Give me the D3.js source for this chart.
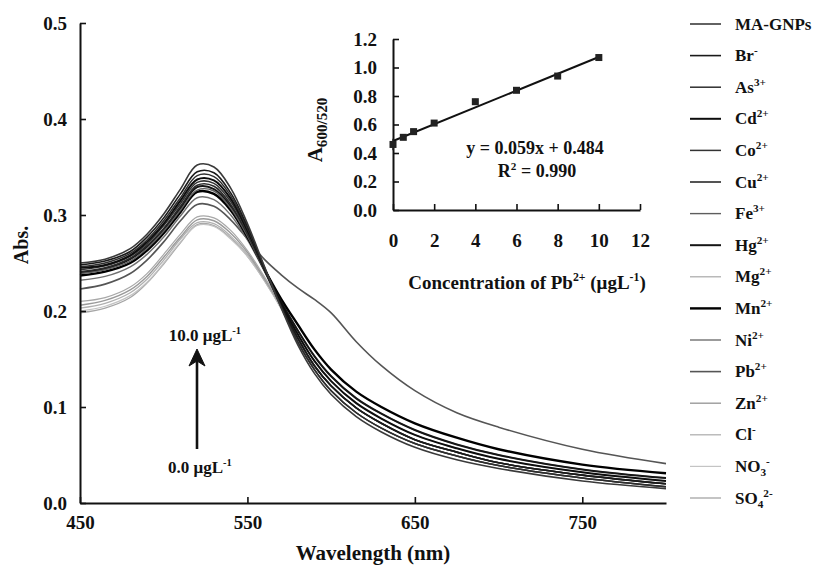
<!DOCTYPE html>
<html>
<head>
<meta charset="utf-8">
<script src="https://cdn.jsdelivr.net/npm/d3@7"></script>
<style>
  body { margin: 0; background: #fff; }
  svg { display: block; }
  text { font-family: "Liberation Serif", "Times New Roman", serif; font-weight: bold; fill: #111; }
</style>
</head>
<body>
<svg id="chart" width="815" height="565"></svg>
<script>
// ---- Spectra: wavelength grid (nm) and absorbance of each sample ----
const wavelengths = [450,465,480,490,500,510,520,530,540,550,560,570,580,590,600,615,630,650,675,700,750,800];

const absMAGNPs = [.250,.254,.265,.280,.301,.327,.352,.350,.328,.291,.247,.204,.165,.135,.113,.090,.074,.058,.045,.036,.023,.015];
const absBr     = [.248,.252,.262,.277,.297,.322,.345,.344,.323,.288,.246,.206,.172,.143,.122,.099,.083,.066,.053,.042,.029,.020];
const absAs     = [.246,.250,.260,.274,.294,.318,.341,.340,.320,.286,.245,.205,.168,.139,.117,.094,.078,.062,.049,.039,.026,.017];
const absCd     = [.245,.248,.258,.272,.291,.315,.337,.336,.317,.284,.245,.208,.176,.148,.127,.104,.088,.071,.057,.046,.032,.023];
const absCo     = [.243,.247,.257,.270,.289,.312,.334,.333,.314,.282,.243,.205,.168,.139,.117,.094,.078,.062,.049,.039,.026,.017];
const absCu     = [.241,.245,.255,.268,.286,.309,.331,.330,.311,.280,.243,.207,.172,.143,.122,.099,.083,.066,.053,.042,.029,.020];
const absFe     = [.239,.243,.252,.265,.283,.305,.326,.325,.307,.278,.242,.207,.172,.143,.122,.099,.083,.066,.053,.042,.029,.020];
const absHg     = [.240,.244,.254,.267,.285,.307,.329,.327,.309,.279,.244,.210,.180,.153,.132,.109,.093,.076,.061,.050,.035,.026];
const absMg     = [.210,.214,.225,.239,.259,.280,.298,.297,.284,.263,.236,.207,.176,.148,.127,.104,.088,.071,.057,.046,.032,.023];
const absMn     = [.237,.241,.250,.263,.281,.303,.324,.322,.305,.277,.244,.213,.186,.160,.139,.116,.100,.083,.068,.056,.040,.031];
const absNi     = [.232,.236,.246,.259,.277,.299,.318,.316,.300,.274,.242,.210,.180,.153,.132,.109,.093,.076,.061,.050,.035,.026];
const absPb     = [.223,.228,.239,.253,.272,.294,.311,.309,.295,.275,.254,.238,.224,.212,.198,.168,.143,.117,.094,.079,.056,.041];
const absZn     = [.206,.211,.222,.236,.256,.277,.295,.294,.281,.261,.234,.205,.172,.143,.122,.099,.083,.066,.053,.042,.029,.020];
const absCl     = [.203,.208,.219,.233,.253,.275,.292,.291,.278,.259,.233,.205,.172,.143,.122,.099,.083,.066,.053,.042,.029,.020];
const absNO3    = [.200,.205,.216,.230,.250,.272,.289,.288,.275,.257,.232,.203,.168,.139,.117,.094,.078,.062,.049,.039,.026,.017];
const absSO4    = [.198,.203,.214,.229,.249,.271,.290,.289,.276,.257,.232,.203,.168,.139,.117,.094,.078,.062,.049,.039,.026,.017];

// Legend labels: base text, optional subscript and superscript
const seriesLabels = [
  {base: "MA-GNPs"}, {base: "Br", sup: "-"}, {base: "As", sup: "3+"}, {base: "Cd", sup: "2+"},
  {base: "Co", sup: "2+"}, {base: "Cu", sup: "2+"}, {base: "Fe", sup: "3+"}, {base: "Hg", sup: "2+"},
  {base: "Mg", sup: "2+"}, {base: "Mn", sup: "2+"}, {base: "Ni", sup: "2+"}, {base: "Pb", sup: "2+"},
  {base: "Zn", sup: "2+"}, {base: "Cl", sup: "-"}, {base: "NO", sub: "3", sup: "-"}, {base: "SO", sub: "4", sup: "2-"}
];
const seriesValues = [absMAGNPs, absBr, absAs, absCd, absCo, absCu, absFe, absHg,
                      absMg, absMn, absNi, absPb, absZn, absCl, absNO3, absSO4];

// Line styles for each sample
const seriesColors = ["#3a3a3a","#1a1a1a","#2e2e2e","#0d0d0d","#333333","#2a2a2a","#5e5e5e","#151515",
                      "#a8a8a8","#000000","#707070","#555555","#9a9a9a","#b0b0b0","#c4c4c4","#a5a5a5"];
const seriesWidths = [1.6,1.6,1.5,2,1.5,1.6,1.4,2,1.2,2.4,1.4,1.6,1.4,1.3,1.2,1.3];

// ---- Calibration inset: A600/A520 versus Pb2+ concentration ----
const pbConc   = [0, 0.5, 1, 2, 4, 6, 8, 10];
const ratio    = [0.46, 0.51, 0.55, 0.61, 0.76, 0.84, 0.94, 1.07];
const ratioErr = [0.04, 0.01, 0.01, 0.01, 0.02, 0.01, 0.01, 0.02];
const fitSlope = 0.059, fitIntercept = 0.484;

// Tick values
const mainXTicks = [450, 550, 650, 750];
const mainYTicks = [0, 0.1, 0.2, 0.3, 0.4, 0.5];
const insetXTicks = [0, 2, 4, 6, 8, 10, 12];
const insetYTicks = [0, 0.2, 0.4, 0.6, 0.8, 1.0, 1.2];

const svg = d3.select("#chart");

// Writes chemical labels with sub/superscripts into a text element
function richLabel(textSel, lab, size, scale = 0.62) {
  textSel.append("tspan").text(lab.base);
  if (lab.sub) textSel.append("tspan").attr("font-size", size * scale).attr("baseline-shift", -size * 0.25).text(lab.sub);
  if (lab.sup) textSel.append("tspan").attr("font-size", size * scale).attr("baseline-shift", size * 0.4).text(lab.sup);
}

function styleAxis(g, fontSize) {
  g.attr("font-family", null).attr("font-size", null);
  g.select(".domain").attr("stroke", "#111").attr("stroke-width", 2);
  g.selectAll(".tick line").attr("stroke", "#111").attr("stroke-width", 1.6);
  g.selectAll(".tick text").attr("font-size", fontSize).attr("fill", "#111");
}

// ---- Main spectra panel ----
const x = d3.scaleLinear().domain([450, 800]).range([80, 666]);
const y = d3.scaleLinear().domain([0, 0.5]).range([503, 23]);

const line = d3.line()
  .x((d, i) => x(wavelengths[i]))
  .y(d => y(d))
  .curve(d3.curveCatmullRom.alpha(0.5));

const curves = svg.append("g").attr("class", "spectra");
d3.range(seriesValues.length).reverse().forEach(i => {
  curves.append("path")
    .attr("d", line(seriesValues[i]))
    .attr("fill", "none")
    .attr("stroke", seriesColors[i])
    .attr("stroke-width", seriesWidths[i])
    .attr("stroke-linejoin", "round");
});

svg.append("g").attr("transform", "translate(0,503)")
  .call(d3.axisBottom(x).tickValues(mainXTicks).tickSizeInner(-6).tickSizeOuter(0).tickPadding(13).tickFormat(d3.format("d")))
  .call(g => styleAxis(g, 19));
svg.append("g").attr("transform", "translate(80,0)")
  .call(d3.axisLeft(y).tickValues(mainYTicks).tickSizeInner(-6).tickSizeOuter(0).tickPadding(13).tickFormat(d3.format(".1f")))
  .call(g => styleAxis(g, 19));

svg.append("text").attr("x", 373).attr("y", 560).attr("text-anchor", "middle")
  .attr("font-size", 21).text("Wavelength (nm)");
svg.append("text").attr("transform", "translate(28,245) rotate(-90)").attr("text-anchor", "middle")
  .attr("font-size", 20).text("Abs.");

// Concentration arrow (shaft + head)
svg.append("line").attr("x1", 197).attr("y1", 449).attr("x2", 197).attr("y2", 360)
  .attr("stroke", "#111").attr("stroke-width", 2.6);
svg.append("path")
  .attr("d", "M197,349 L205,366 L197,361 L189,366 Z")
  .attr("fill", "#111").attr("stroke", "#111").attr("stroke-width", 1).attr("stroke-linejoin", "round");

const topLab = svg.append("text").attr("x", 205).attr("y", 341).attr("text-anchor", "middle").attr("font-size", 17);
richLabel(topLab, {base: "10.0 μgL", sup: "-1"}, 17);
const botLab = svg.append("text").attr("x", 200).attr("y", 473).attr("text-anchor", "middle").attr("font-size", 17);
richLabel(botLab, {base: "0.0 μgL", sup: "-1"}, 17);

// ---- Inset calibration plot ----
const ix = d3.scaleLinear().domain([0, 12]).range([393, 640]);
const iy = d3.scaleLinear().domain([0, 1.2]).range([210, 39]);

svg.append("g").attr("transform", "translate(0,210)")
  .call(d3.axisBottom(ix).tickValues(insetXTicks).tickSizeInner(-6).tickSizeOuter(0).tickPadding(24).tickFormat(d3.format("d")))
  .call(g => styleAxis(g, 19));
svg.append("g").attr("transform", "translate(393,0)")
  .call(d3.axisLeft(iy).tickValues(insetYTicks).tickSizeInner(-6).tickSizeOuter(0).tickPadding(16).tickFormat(d3.format(".1f")))
  .call(g => styleAxis(g, 19));

// fitted line
svg.append("line")
  .attr("x1", ix(0)).attr("y1", iy(fitIntercept))
  .attr("x2", ix(10)).attr("y2", iy(fitSlope * 10 + fitIntercept))
  .attr("stroke", "#111").attr("stroke-width", 2);

// error bars and markers
const pts = svg.append("g");
pbConc.forEach((c, i) => {
  pts.append("line").attr("x1", ix(c)).attr("x2", ix(c))
    .attr("y1", iy(ratio[i] - ratioErr[i])).attr("y2", iy(ratio[i] + ratioErr[i]))
    .attr("stroke", "#222").attr("stroke-width", 1.4);
  pts.append("rect").attr("x", ix(c) - 3.5).attr("y", iy(ratio[i]) - 3.5)
    .attr("width", 7).attr("height", 7).attr("fill", "#222");
});

svg.append("text").attr("x", 535).attr("y", 154).attr("text-anchor", "middle").attr("font-size", 18)
  .text("y = 0.059x + 0.484");
const r2 = svg.append("text").attr("x", 537).attr("y", 177).attr("text-anchor", "middle").attr("font-size", 18);
richLabel(r2, {base: "R", sup: "2"}, 18);
r2.append("tspan").text(" = 0.990");

const insetTitle = svg.append("text").attr("x", 527).attr("y", 289).attr("text-anchor", "middle").attr("font-size", 19);
richLabel(insetTitle, {base: "Concentration of Pb", sup: "2+"}, 19);
insetTitle.append("tspan").attr("baseline-shift", 0).text(" (μgL");
insetTitle.append("tspan").attr("font-size", 19 * 0.62).attr("baseline-shift", 19 * 0.4).text("-1");
insetTitle.append("tspan").text(")");

const yLab = svg.append("text").attr("transform", "translate(322,130) rotate(-90)").attr("text-anchor", "middle").attr("font-size", 21);
richLabel(yLab, {base: "A", sub: "600/520"}, 21, 0.72);

// ---- Legend ----
const legend = svg.append("g");
seriesLabels.forEach((lab, i) => {
  const ly = 24 + i * 31.6;
  legend.append("line").attr("x1", 690).attr("x2", 721).attr("y1", ly).attr("y2", ly)
    .attr("stroke", seriesColors[i]).attr("stroke-width", seriesWidths[i]);
  const t = legend.append("text").attr("x", 735).attr("y", ly + 5.5).attr("font-size", 17);
  richLabel(t, lab, 17, 0.66);
});
</script>
</body>
</html>
